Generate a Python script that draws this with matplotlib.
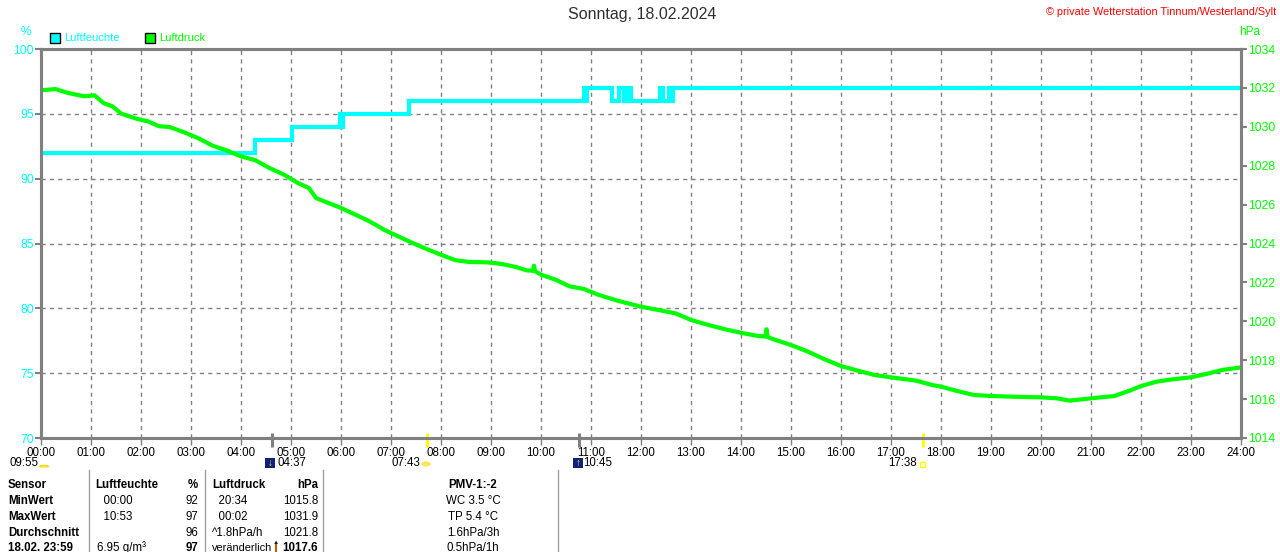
import matplotlib
matplotlib.use("Agg")
import matplotlib.pyplot as plt
from matplotlib.patches import Rectangle, Circle, Wedge

plt.rcParams['font.family'] = ['Liberation Sans', 'DejaVu Sans']

W, H = 1280, 552

# humidity (%), step values, time in hours
hum_t = [0.00, 4.28, 5.02, 5.97, 6.00, 6.03, 7.36, 10.85, 10.88, 10.91, 11.41, 11.56,
         11.65, 11.72, 11.80, 12.37, 12.43, 12.55, 12.60, 12.64, 24.00]
hum_v = [92, 93, 94, 95, 94, 95, 96, 97, 96, 97, 96, 97,
         96, 97, 96, 97, 96, 97, 96, 97, 97]

# air pressure (hPa)
press_t = [0.00, 0.29, 0.54, 0.86, 1.07, 1.25, 1.43, 1.61, 1.93, 2.14, 2.36, 2.57, 2.86,
           3.14, 3.43, 3.71, 4.00, 4.29, 4.57, 4.86, 5.14, 5.36, 5.50, 5.71, 6.00, 6.29,
           6.57, 6.86, 7.14, 7.43, 7.71, 8.00, 8.29, 8.57, 8.93, 9.21, 9.50, 9.71, 9.84,
           9.86, 9.88, 10.00, 10.29, 10.57, 10.86, 11.14, 11.53, 12.00, 12.27, 12.69,
           13.00, 13.35, 13.68, 14.00, 14.35, 14.49, 14.51, 14.53, 14.60, 15.00, 15.34,
           15.67, 16.00, 16.34, 16.67, 17.00, 17.50, 17.83, 18.00, 18.32, 18.66, 19.00,
           19.49, 20.00, 20.32, 20.57, 21.00, 21.47, 21.81, 22.00, 22.30, 22.64, 23.00,
           23.30, 23.63, 24.00]
press_v = [1031.88, 1031.94, 1031.74, 1031.57, 1031.62, 1031.22, 1031.05, 1030.67,
           1030.40, 1030.28, 1030.03, 1029.99, 1029.72, 1029.42, 1029.03, 1028.79,
           1028.48, 1028.28, 1027.88, 1027.54, 1027.11, 1026.85, 1026.34, 1026.12,
           1025.83, 1025.48, 1025.14, 1024.71, 1024.37, 1024.03, 1023.72, 1023.42,
           1023.14, 1023.05, 1023.03, 1022.95, 1022.79, 1022.62, 1022.60, 1022.86,
           1022.58, 1022.40, 1022.14, 1021.80, 1021.66, 1021.37, 1021.06, 1020.75,
           1020.62, 1020.41, 1020.07, 1019.81, 1019.59, 1019.41, 1019.24, 1019.22,
           1019.59, 1019.20, 1019.12, 1018.78, 1018.44, 1018.05, 1017.70, 1017.46,
           1017.24, 1017.12, 1016.95, 1016.72, 1016.64, 1016.42, 1016.21, 1016.16,
           1016.12, 1016.09, 1016.04, 1015.92, 1016.04, 1016.16, 1016.47, 1016.67,
           1016.89, 1017.02, 1017.12, 1017.29, 1017.50, 1017.63]

hour_labels = ["%02d:00" % h for h in range(25)]
hum_ticks = [70, 75, 80, 85, 90, 95, 100]
press_ticks = list(range(1014, 1035, 2))

# moon set/rise and sunrise/sunset marks
moon_marks = [4 + 37 / 60, 10 + 45 / 60]
sun_marks = [7 + 43 / 60, 17 + 38 / 60]

table_rows = [
    ["Sensor", "Luftfeuchte", "%", "Luftdruck", "hPa", "PMV-1:-2"],
    ["MinWert", "  00:00", "92", "  20:34", "1015.8", "WC 3.5 °C"],
    ["MaxWert", "  10:53", "97", "  00:02", "1031.9", "TP 5.4 °C"],
    ["Durchschnitt", "", "96", "^1.8hPa/h", "1021.8", "1.6hPa/3h"],
    ["18.02. 23:59", "6.95 g/m³", "97", "veränderlich", "1017.6", "0.5hPa/1h"],
]

CYAN = "#00FFFF"
GREEN = "#00FF00"
GRAY = "#808080"


def fx(x):
    return x / W


def fy(y):
    return 1 - y / H


fig = plt.figure(figsize=(12.8, 5.52), dpi=100)
ax = fig.add_axes([fx(41), fy(438), fx(1241) - fx(41), fy(49) - fy(438)])
ax.set_xlim(0, 24)
ax.set_ylim(70, 100)
ax.step(hum_t, hum_v, where="post", color=CYAN, lw=3.0, solid_joinstyle="miter")

ax.set_xticks(range(25))
ax.set_xticklabels(hour_labels, fontsize=8.3)
ax.set_yticks(hum_ticks)
ax.set_yticklabels([str(v) for v in hum_ticks], fontsize=8.8)
ax.tick_params(axis="x", length=5, width=1, color=GRAY, pad=1.5, labelcolor="black")
ax.tick_params(axis="y", length=4, width=1.5, color=GRAY, pad=1, labelcolor=CYAN)
ax.grid(True, color=GRAY, ls=(0, (3, 3)), lw=1.0)
for s in ax.spines.values():
    s.set_color(GRAY)
    s.set_linewidth(2.2)

ax2 = ax.twinx()
ax2.set_ylim(1014, 1034)
ax2.plot(press_t, press_v, color=GREEN, lw=3.0)
ax2.set_yticks(press_ticks)
ax2.set_yticklabels([str(v) for v in press_ticks], fontsize=8.8)
ax2.tick_params(axis="y", length=4, width=1.5, color=GRAY, pad=1, labelcolor=GREEN)
for s in ax2.spines.values():
    s.set_color(GRAY)
    s.set_linewidth(2.2)

# special ticks on the time axis
tr = ax.get_xaxis_transform()
ax.vlines(moon_marks, -0.023, 0.013, transform=tr, colors=GRAY, lw=2.2, clip_on=False)
ax.vlines(sun_marks, -0.023, 0.013, transform=tr, colors="#FFFF00", lw=2.0, clip_on=False, zorder=5)

# titles and axis units
fig.text(fx(642), fy(15), "Sonntag, 18.02.2024", ha="center", va="center", fontsize=11.5, color="#303030")
fig.text(fx(1276), fy(12), "© private Wetterstation Tinnum/Westerland/Sylt", ha="right", va="center",
         fontsize=7.8, color="#FF0000")
fig.text(fx(26), fy(32), "%", ha="center", va="center", fontsize=8.5, color=CYAN)
fig.text(fx(1250), fy(32), "hPa", ha="center", va="center", fontsize=8.5, color=GREEN)

# legend
fig.patches.append(Rectangle((fx(50), fy(43)), fx(10), 10 / H, transform=fig.transFigure,
                             facecolor=CYAN, edgecolor="black", lw=1))
fig.text(fx(64), fy(38), "Luftfeuchte", ha="left", va="center", fontsize=8.0, color=CYAN)
fig.patches.append(Rectangle((fx(145), fy(43)), fx(10), 10 / H, transform=fig.transFigure,
                             facecolor=GREEN, edgecolor="black", lw=1))
fig.text(fx(159), fy(38), "Luftdruck", ha="left", va="center", fontsize=8.0, color=GREEN)

# second row under time axis
row2 = fy(463)
fig.text(fx(10), row2, "09:55", ha="left", va="center", fontsize=8.3)
fig.patches.append(Wedge((fx(44), fy(467)), 4.5 / W, 0, 180, transform=fig.transFigure,
                         facecolor="#FFFF00", edgecolor="#E0C000", lw=0.5))
fig.text(fx(277), row2, "04:37", ha="left", va="center", fontsize=8.3)
fig.patches.append(Rectangle((fx(265), fy(468)), fx(10), 10 / H, transform=fig.transFigure,
                             facecolor="#102080", edgecolor="none"))
fig.text(fx(270), fy(463), "↓", ha="center", va="center", fontsize=7, color="#FFFF00", fontweight="bold")
fig.text(fx(392), row2, "07:43", ha="left", va="center", fontsize=8.3)
fig.patches.append(Circle((fx(426), fy(464)), 3.5 / W, transform=fig.transFigure,
                          facecolor="#FFFF00", edgecolor="#FFE060", lw=1.5))
fig.patches.append(Rectangle((fx(573), fy(468)), fx(10), 10 / H, transform=fig.transFigure,
                             facecolor="#102080", edgecolor="none"))
fig.text(fx(578), fy(463), "↑", ha="center", va="center", fontsize=7, color="#FFFF00", fontweight="bold")
fig.text(fx(583), row2, "10:45", ha="left", va="center", fontsize=8.3)
fig.text(fx(888), row2, "17:38", ha="left", va="center", fontsize=8.3)
fig.patches.append(Rectangle((fx(920), fy(467)), fx(5), 5 / H, transform=fig.transFigure,
                             facecolor="none", edgecolor="#FFFF00", lw=1))

# table separators
for xs in [89, 205, 323, 558]:
    fig.add_artist(plt.Line2D([fx(xs), fx(xs)], [fy(470), fy(552)], transform=fig.transFigure,
                              color="#A0A0A0", lw=1))

row_y = [485, 501, 517, 533, 548]
for i, row in enumerate(table_rows):
    y = fy(row_y[i])
    head = i == 0
    fig.text(fx(8), y, row[0], ha="left", va="center", fontsize=8.3, fontweight="bold")
    fig.text(fx(95) if head else fx(97), y, row[1], ha="left", va="center", fontsize=8.3,
             fontweight="bold" if head else "normal")
    fig.text(fx(198), y, row[2], ha="right", va="center", fontsize=8.3,
             fontweight="bold" if head or i == 4 else "normal")
    fig.text(fx(212), y, row[3], ha="left", va="center", fontsize=8.3 if i < 4 else 7.9,
             fontweight="bold" if head else "normal")
    fig.text(fx(318), y, row[4], ha="right", va="center", fontsize=8.3,
             fontweight="bold" if head or i == 4 else "normal")
    fig.text(fx(473), y, row[5], ha="center", va="center", fontsize=8.3,
             fontweight="bold" if head else "normal")
fig.add_artist(plt.Line2D([fx(276), fx(276)], [fy(543), fy(552)], transform=fig.transFigure,
                          color="#C06000", lw=1.5))
fig.text(fx(276), fy(543), "▲", ha="center", va="center", fontsize=4.5, color="#202020")

fig.savefig("out.png", dpi=100)
